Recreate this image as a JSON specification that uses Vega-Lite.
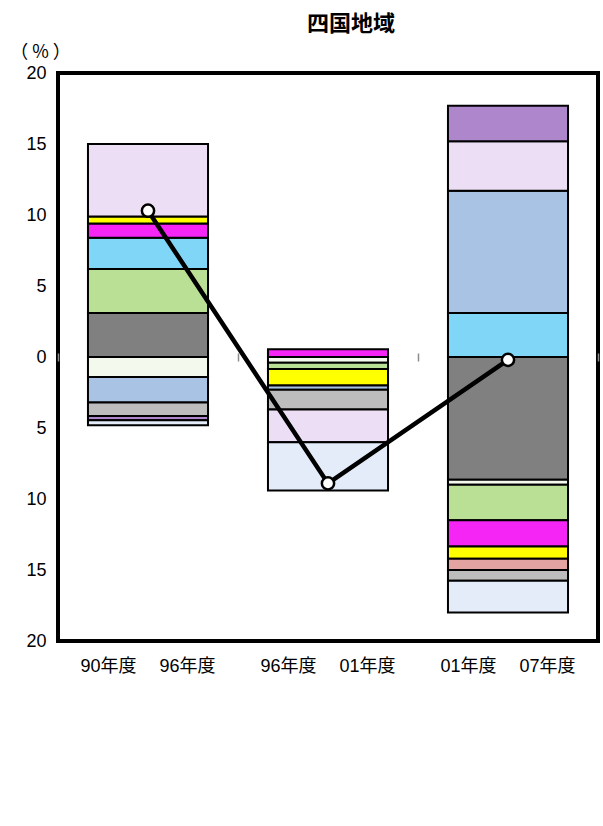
{
  "$schema": "https://vega.github.io/schema/vega-lite/v6.json",
  "width": 540,
  "height": 568,
  "autosize": {"type": "none"},
  "padding": {"left": 58, "top": 73, "right": 5, "bottom": 185},
  "background": "white",
  "config": {
    "view": {"stroke": "#000000", "strokeWidth": 4},
    "font": "Liberation Sans, Noto Sans CJK JP, sans-serif"
  },
  "title": {
    "text": "四国地域",
    "fontSize": 22,
    "fontWeight": "bold",
    "font": "Noto Sans CJK JP",
    "anchor": "middle",
    "dx": 23,
    "dy": 27,
    "offset": 12,
    "baseline": "bottom",
    "color": "#000000"
  },
  "datasets": {
    "bars": [
      {"期間": "90年度　 96年度", "要因": "製造業", "寄与度": 3.1},
      {"期間": "90年度　 96年度", "要因": "農林水産業", "寄与度": -1.4},
      {"期間": "90年度　 96年度", "要因": "建設業", "寄与度": 3.1},
      {"期間": "90年度　 96年度", "要因": "電気・ガス・水道業", "寄与度": 2.2},
      {"期間": "90年度　 96年度", "要因": "卸売・小売業", "寄与度": 1.0},
      {"期間": "90年度　 96年度", "要因": "金融・保険業", "寄与度": 0.5},
      {"期間": "90年度　 96年度", "要因": "不動産業", "寄与度": -1.8},
      {"期間": "90年度　 96年度", "要因": "サービス業", "寄与度": -0.95},
      {"期間": "90年度　 96年度", "要因": "政府サービス", "寄与度": 5.1},
      {"期間": "90年度　 96年度", "要因": "鉱業", "寄与度": -0.3},
      {"期間": "90年度　 96年度", "要因": "その他", "寄与度": -0.35},
      {"期間": "96年度　 01年度", "要因": "卸売・小売業", "寄与度": 0.55},
      {"期間": "96年度　 01年度", "要因": "農林水産業", "寄与度": -0.4},
      {"期間": "96年度　 01年度", "要因": "建設業", "寄与度": -0.45},
      {"期間": "96年度　 01年度", "要因": "金融・保険業", "寄与度": -1.15},
      {"期間": "96年度　 01年度", "要因": "不動産業", "寄与度": -0.3},
      {"期間": "96年度　 01年度", "要因": "サービス業", "寄与度": -1.4},
      {"期間": "96年度　 01年度", "要因": "政府サービス", "寄与度": -2.3},
      {"期間": "96年度　 01年度", "要因": "その他", "寄与度": -3.4},
      {"期間": "01年度　 07年度", "要因": "電気・ガス・水道業", "寄与度": 3.1},
      {"期間": "01年度　 07年度", "要因": "不動産業", "寄与度": 8.6},
      {"期間": "01年度　 07年度", "要因": "政府サービス", "寄与度": 3.5},
      {"期間": "01年度　 07年度", "要因": "鉱業", "寄与度": 2.5},
      {"期間": "01年度　 07年度", "要因": "製造業", "寄与度": -8.65},
      {"期間": "01年度　 07年度", "要因": "農林水産業", "寄与度": -0.35},
      {"期間": "01年度　 07年度", "要因": "建設業", "寄与度": -2.5},
      {"期間": "01年度　 07年度", "要因": "卸売・小売業", "寄与度": -1.85},
      {"期間": "01年度　 07年度", "要因": "金融・保険業", "寄与度": -0.85},
      {"期間": "01年度　 07年度", "要因": "運輸・通信業", "寄与度": -0.8},
      {"期間": "01年度　 07年度", "要因": "サービス業", "寄与度": -0.75},
      {"期間": "01年度　 07年度", "要因": "その他", "寄与度": -2.25}
    ],
    "total": [
      {"期間": "90年度　 96年度", "成長率": 10.3},
      {"期間": "96年度　 01年度", "成長率": -8.9},
      {"期間": "01年度　 07年度", "成長率": -0.2}
    ]
  },
  "layer": [
    {
      "mark": {"type": "rule", "color": "#8c8c8c", "strokeWidth": 2},
      "encoding": {"y": {"datum": 0, "type": "quantitative"}}
    },
    {
      "data": {"name": "bars"},
      "transform": [
        {"calculate": "indexof(['製造業','農林水産業','建設業','電気・ガス・水道業','卸売・小売業','金融・保険業','不動産業','運輸・通信業','サービス業','政府サービス','鉱業','その他'], datum['要因'])", "as": "順"}
      ],
      "mark": {"type": "bar", "width": {"band": 0.667}, "stroke": "#000000", "strokeWidth": 2},
      "encoding": {
        "x": {
          "field": "期間",
          "type": "nominal",
          "sort": null,
          "scale": {"paddingInner": 0, "paddingOuter": 0},
          "axis": {
            "title": null,
            "labelAngle": 0,
            "labelFontSize": 18,
            "labelColor": "#000000",
            "labelFont": "Liberation Sans, Noto Sans CJK JP",
            "labelPadding": 16,
            "ticks": false,
            "domain": false
          }
        },
        "y": {
          "field": "寄与度",
          "type": "quantitative",
          "stack": "zero",
          "scale": {"domain": [-20, 20], "nice": false},
          "axis": {
            "title": "（ % ）",
            "titleAngle": 0,
            "titleAlign": "center",
            "titleBaseline": "middle",
            "titleX": -18,
            "titleY": -21,
            "titleFontSize": 18,
            "titleFontWeight": "normal",
            "titleColor": "#000000",
            "titleFont": "Noto Sans CJK JP",
            "values": [-20, -15, -10, -5, 0, 5, 10, 15, 20],
            "labelExpr": "abs(datum.value)",
            "labelFontSize": 18,
            "labelColor": "#000000",
            "labelPadding": 12,
            "ticks": false,
            "domain": false,
            "grid": false
          }
        },
        "color": {
          "field": "要因",
          "type": "nominal",
          "legend": null,
          "scale": {
            "domain": ["製造業","農林水産業","建設業","電気・ガス・水道業","卸売・小売業","金融・保険業","不動産業","運輸・通信業","サービス業","政府サービス","鉱業","その他"],
            "range": ["#808080","#f3f9ec","#b9e095","#80d6f6","#f526f5","#ffff00","#a9c3e5","#e3a3a1","#bdbdbd","#ecdff5","#ad86cc","#e3ecf8"]
          }
        },
        "order": {"field": "順", "type": "quantitative", "sort": "ascending"}
      }
    },
    {
      "data": {"name": "total"},
      "mark": {"type": "line", "color": "#000000", "strokeWidth": 4.5},
      "encoding": {
        "x": {
          "field": "期間",
          "type": "nominal",
          "sort": null,
          "axis": {
            "orient": "bottom",
            "offset": -288,
            "title": null,
            "labels": false,
            "domain": false,
            "ticks": true,
            "tickBand": "extent",
            "tickSize": 8,
            "tickColor": "#8c8c8c",
            "tickWidth": 1.5,
            "zindex": 1
          }
        },
        "y": {"field": "成長率", "type": "quantitative"}
      }
    },
    {
      "data": {"name": "total"},
      "mark": {"type": "point", "filled": true, "fill": "#ffffff", "stroke": "#000000", "strokeWidth": 2.5, "size": 150, "opacity": 1},
      "encoding": {
        "x": {"field": "期間", "type": "nominal", "sort": null, "axis": null},
        "y": {"field": "成長率", "type": "quantitative"}
      }
    }
  ],
  "resolve": {"axis": {"x": "independent"}}
}
